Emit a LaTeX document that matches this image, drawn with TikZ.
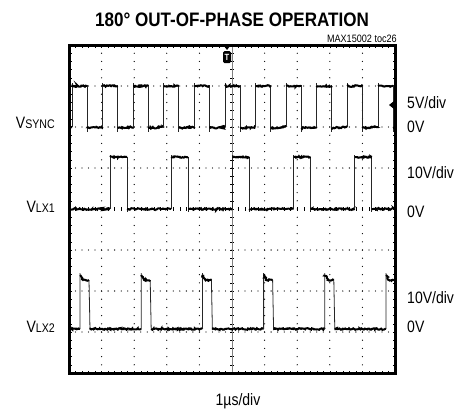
\documentclass[tikz,border=0pt]{standalone}
\usepackage{fontspec}
\setmainfont{Liberation Sans}[FakeStretch=0.85]
\newfontfamily\titlefont{Liberation Sans}[FakeStretch=0.875]
\usetikzlibrary{decorations.pathmorphing}
\newcommand{\sigsub}[1]{\raisebox{-0.8pt}{\fontsize{12.5}{12.5}\selectfont #1}}

\begin{document}
\begin{tikzpicture}[
    x=1pt, y=-1pt,
    trace/.style={line width=2pt, decorate,
        decoration={random steps, segment length=1pt, amplitude=0.8pt}},
    edge/.style={line width=0.8pt, black!85},
    tick/.style={line width=0.4pt},
    dot/.style={fill=black},
    lbl/.style={font=\fontsize{16.5}{16.5}\selectfont, inner sep=0},
    ]
    \useasboundingbox (0,0) rectangle (460,413);

    % graticule
    \foreach \i in {1,2,3,4,6,7,8,9}
        \foreach \j in {1,...,39}
            \fill [dot] (69+32.6*\i,45+8.2*\j) circle (0.65);
    \foreach \i in {1,2,3,5,6,7}
        \foreach \j in {1,...,49}
            \fill [dot] (69+6.52*\j,45+41*\i) circle (0.65);
    \foreach \j [evaluate=\j as \xx using 69+6.52*\j] in {1,...,49} {
        \draw [tick] (\xx,45) -- ++(0,2.5);
        \draw [tick] (\xx,373) -- ++(0,-2.5);
        \draw [tick] (\xx,207) -- (\xx,211);
    }
    \foreach \j [evaluate=\j as \yy using 45+8.2*\j] in {1,...,39} {
        \draw [tick] (69,\yy) -- ++(2.5,0);
        \draw [tick] (395,\yy) -- ++(-2.5,0);
        \draw [tick] (230,\yy) -- (234,\yy);
    }
    \draw [tick, black!50] (232,45) -- (232,373);

    \begin{scope}
        \clip (70,46) rectangle (394,372);
        % sync
        \draw [trace] (69,127) -- (72,127);
        \foreach \k [evaluate=\k as \xr using 72+30.6*\k] in {0,...,10} {
            \draw [edge] (\xr,127) -- (\xr,83) (\xr+15,85) -- (\xr+15,132);
            \draw [trace] (\xr,86) -- (\xr+15,86);
            \draw [trace] (\xr+15,128) -- (\xr+30.6,127);
        }
        % lx1
        \draw [trace] (69,209) -- (110,209);
        \foreach \k [evaluate=\k as \xr using 110+61.2*\k] in {0,...,4} {
            \draw [edge] (\xr,209) -- (\xr,155) (\xr+17,157) -- (\xr+17,212);
            \draw [trace] (\xr,157) -- (\xr+17,157);
            \draw [trace] (\xr+17,209) -- (\xr+61.2,209);
        }
        % lx2
        \draw [trace] (69,329) -- (80,329);
        \foreach \k [evaluate=\k as \xr using 80+61.2*\k] in {0,...,5} {
            \draw [edge] (\xr,329) -- (\xr,273) (\xr+9,280) -- (\xr+10,330);
            \draw [trace] (\xr,275) -- (\xr+3,280) -- (\xr+9,280);
            \draw [trace] (\xr+10,329) -- (\xr+61.2,329);
        }
    \end{scope}

    \draw [line width=3pt] (69,45) rectangle (395,373);

    % markers
    \fill (224,46) -- (230,46) -- (227,50) -- cycle;
    \node (trig) [fill=black, text=white, rounded corners=1.5pt, inner sep=0,
        minimum width=8, minimum height=12,
        font=\bfseries\fontsize{9}{9}\selectfont] at (227,57) {T};
    \fill (394,101) -- (389,105) -- (394,109) -- cycle;

    % labels
    \node (title) [anchor=base, inner sep=0,
        font=\titlefont\bfseries\fontsize{19.5}{19.5}\selectfont]
        at (232,26) {180° OUT-OF-PHASE OPERATION};
    \node (tocid) [anchor=base east, inner sep=0,
        font=\fontsize{10.7}{10.7}\selectfont] at (397,42) {MAX15002 toc26};
    \node (vsync) [lbl, anchor=base east] at (55,128) {V\sigsub{SYNC}};
    \node (vlxone) [lbl, anchor=base east] at (55,212) {V\sigsub{LX1}};
    \node (vlxtwo) [lbl, anchor=base east] at (55,332) {V\sigsub{LX2}};
    \node (syncdiv) [lbl, anchor=base west] at (407,108) {5V/div};
    \node (synczero) [lbl, anchor=base west] at (407,132) {0V};
    \node (lxonediv) [lbl, anchor=base west] at (407,178) {10V/div};
    \node (lxonezero) [lbl, anchor=base west] at (407,217) {0V};
    \node (lxtwodiv) [lbl, anchor=base west] at (407,303) {10V/div};
    \node (lxtwozero) [lbl, anchor=base west] at (407,332) {0V};
    \node (timediv) [lbl, anchor=base] at (238,405) {1µs/div};
\end{tikzpicture}
\end{document}
